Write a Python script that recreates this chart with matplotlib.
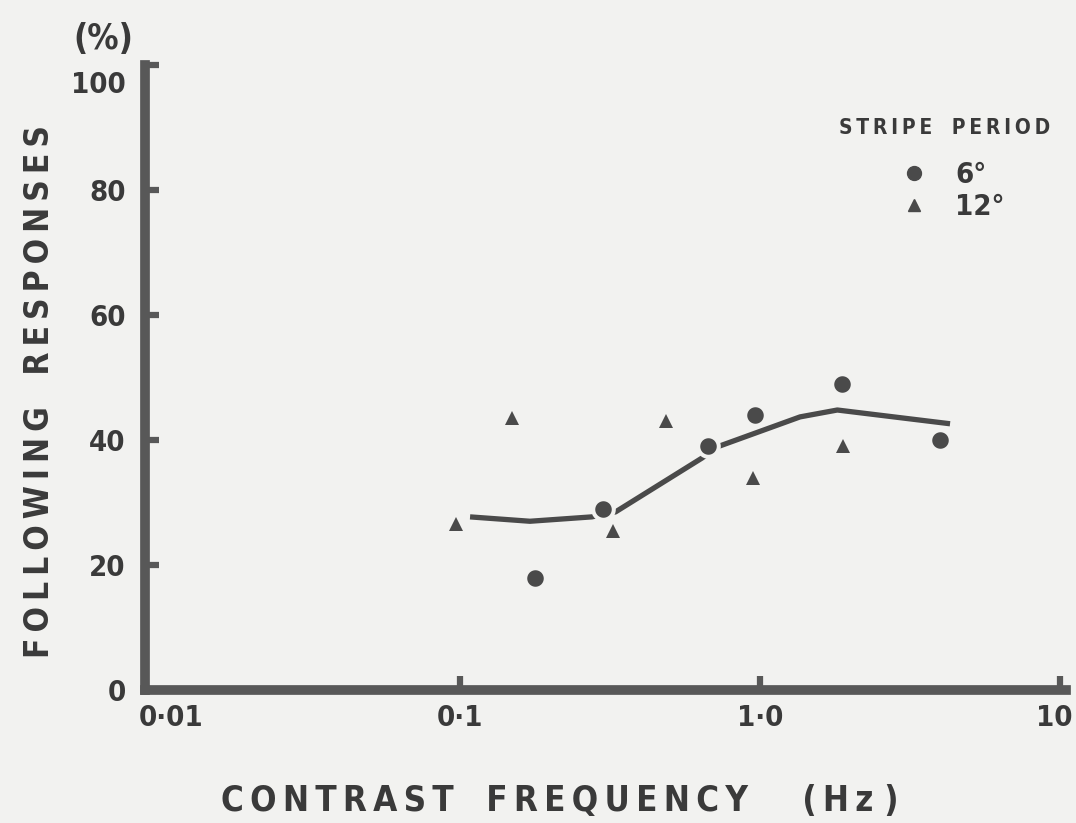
import numpy as np
import matplotlib
matplotlib.use("Agg")
import matplotlib.pyplot as plt
import matplotlib.transforms as mtransforms
from matplotlib import font_manager
from matplotlib.lines import Line2D

# following responses (%) against contrast frequency (Hz), two stripe periods
freq_6 = [0.178, 0.30, 0.67, 0.96, 1.88, 3.98]
resp_6 = [18, 29, 39, 44, 49, 40]

freq_12 = [0.097, 0.149, 0.324, 0.486, 0.948, 1.89]
resp_12 = [26.5, 43.5, 25.5, 43, 34, 39]

# hand-drawn mean curve
curve_f = [0.108, 0.171, 0.275, 0.33, 0.64, 0.72, 1.36, 1.81, 4.3]
curve_r = [27.7, 27.0, 27.7, 28.5, 37.1, 38.9, 43.7, 44.8, 42.6]

x_ticks = [0.01, 0.1, 1, 10]
x_ticklabels = ["0·01", "0·1", "1·0", "10"]
y_ticks = [0, 20, 40, 60, 80, 100]

bg = "#f2f2f0"
ink = "#4a4a4a"
axis_col = "#585858"
txt = "#3a3a3a"

# condensed face if one is installed
stretch = "normal"
for f in font_manager.fontManager.ttflist:
    if f.name == "DejaVu Sans" and f.stretch in ("condensed", "semi-condensed", 75, 87.5):
        stretch = "condensed"
plt.rcParams["font.family"] = ["DejaVu Sans"]
plt.rcParams["font.stretch"] = stretch

TS = "\u2009"  # thin space for letter spacing


def spaced(s):
    return "   ".join(TS.join(w) for w in s.split(" "))


fig = plt.figure(figsize=(10.76, 8.23), dpi=100, facecolor=bg)
ax = fig.add_axes([0.1348, 0.1616, 0.8559, 0.7594], facecolor=bg)

ax.plot(curve_f, curve_r, color=ink, lw=3.8, solid_capstyle="butt", zorder=2)
ax.plot(freq_6, resp_6, ls="none", marker="o", ms=14.8, mfc=ink,
        mec=bg, mew=2.9, zorder=3)
ax.plot(freq_12, resp_12, ls="none", marker="^", ms=9.5, mfc=ink,
        mec=ink, mew=0, zorder=3)

ax.set_xscale("log")
ax.set_xlim(10 ** -2.05, 10 ** 1.02)
ax.set_ylim(0, 100)
ax.minorticks_off()

ax.set_xticks(x_ticks)
ax.set_xticklabels(x_ticklabels)
ax.set_yticks(y_ticks)

for s in ["top", "right"]:
    ax.spines[s].set_visible(False)
for s in ["left", "bottom"]:
    ax.spines[s].set_linewidth(7)
    ax.spines[s].set_color(axis_col)

ax.tick_params(axis="y", direction="in", length=10, width=4.5, color=axis_col,
               pad=14, labelsize=21, labelcolor=txt)
ax.tick_params(axis="x", direction="in", length=10, width=4.5, color=axis_col,
               pad=10, labelsize=21, labelcolor=txt)
for lab in ax.get_xticklabels() + ax.get_yticklabels():
    lab.set_fontweight("bold")

# no stubs at the corner
ax.xaxis.get_major_ticks()[0].tick1line.set_visible(False)
ax.yaxis.get_major_ticks()[0].tick1line.set_visible(False)

# nudge the end labels
xl = ax.get_xticklabels()
xl[-1].set_transform(xl[-1].get_transform() +
                     mtransforms.ScaledTranslation(-4 / 72, 0, fig.dpi_scale_trans))
xl[0].set_transform(xl[0].get_transform() +
                    mtransforms.ScaledTranslation(8 / 72, 0, fig.dpi_scale_trans))
yl = ax.get_yticklabels()
yl[-1].set_transform(yl[-1].get_transform() +
                     mtransforms.ScaledTranslation(0, -12 / 72, fig.dpi_scale_trans))

fig.text(0.0957, 0.9526, "(%)", fontsize=25, fontweight="bold", color=txt,
         ha="center", va="center")
fig.text(0.037, 0.5237, spaced("FOLLOWING RESPONSES"), rotation=90,
         fontsize=24, fontweight="bold", color=txt, ha="center", va="center")
fig.text(0.5204, 0.027, spaced("CONTRAST FREQUENCY") + "     (" + TS + "H" + TS + "z )",
         fontsize=25, fontweight="bold", color=txt, ha="center", va="center")

fig.text(0.878, 1 - 128 / 823, spaced("STRIPE PERIOD"), fontsize=15,
         fontweight="bold", color=txt, ha="center", va="center")

handles = [Line2D([], [], ls="none", marker="o", ms=10, color=ink),
           Line2D([], [], ls="none", marker="^", ms=9, color=ink)]
leg = ax.legend(handles, ["6°", "12°"], loc="center",
                bbox_to_anchor=(0.885, 1 - 191 / 823),
                bbox_transform=fig.transFigure, frameon=False,
                prop={"size": 21, "weight": "bold"}, labelcolor=txt,
                handlelength=1.0, handletextpad=0.9, labelspacing=0.15,
                borderpad=0)

fig.savefig("out.png", dpi=100, facecolor=bg)
